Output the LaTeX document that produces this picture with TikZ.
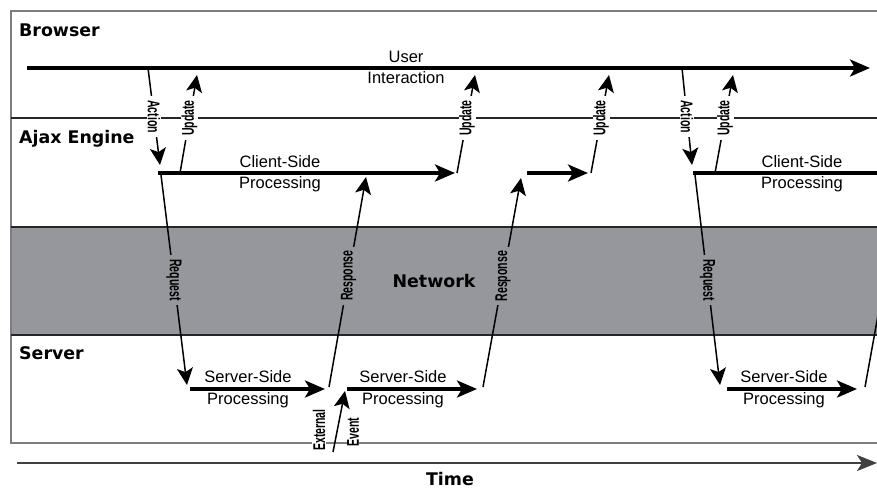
\documentclass[tikz,border=0pt]{standalone}
\usepackage{fontspec}
\setmainfont{Liberation Sans}
\newfontfamily\lanefont{DejaVu Sans}
\newfontfamily\narrowfont[FakeStretch=0.62]{Liberation Sans Bold}
\usepackage{xcolor}
\definecolor{netgray}{RGB}{150,151,156}
\definecolor{boxgray}{RGB}{125,125,125}
\usetikzlibrary{arrows.meta}

\begin{document}
\begin{tikzpicture}[
    x=1pt, y=-1pt,
    lane/.style={anchor=base west, inner sep=0pt,
                 font=\lanefont\fontsize{17.4}{20}\selectfont\bfseries},
    lbl/.style={anchor=base, inner sep=0pt, font=\fontsize{16.5}{18}\selectfont},
    flow/.style={line width=3.2pt, -{Stealth[length=20pt,width=17pt,inset=5pt]}},
    msg/.style={line width=1.5pt, -{Stealth[length=17pt,width=16pt,inset=4pt]}},
    vlbl/.style={fill=white, inner xsep=4pt, inner ysep=0.5pt,
                 font=\narrowfont\fontsize{17}{17}\selectfont},
    down/.style={vlbl, rotate=-90},
    up/.style={vlbl, rotate=90},
  ]
  \useasboundingbox (0,0) rectangle (877,488);
  \clip (0,0) rectangle (877,488);

  % Lanes
  \fill[netgray] (11,227) rectangle (885,335);
  \draw[boxgray, line width=2pt] (11,11) rectangle (885,443);
  \draw[line width=1.3pt, black!85] (11,118) -- (885,118);
  \draw[line width=1.3pt, black!85] (11,227) -- (885,227);
  \draw[line width=1.3pt, black!85] (11,335) -- (885,335);
  \node[lane] (browser) at (19,36)  {Browser};
  \node[lane] (ajax)    at (19,143) {Ajax Engine};
  \node[lane] (server)  at (19,359) {Server};
  \node[lane, anchor=base] (network) at (434,287) {Network};

  % Time axis
  \coordinate (t0) at (17,463);
  \coordinate (t1) at (877,463);
  \draw[line width=2.2pt, black!75, -{Stealth[length=20pt,width=16pt,inset=5pt]}] (t0) -- (t1);
  \node[lane, anchor=base] (time) at (450,485.5) {Time};

  % Points in time
  \coordinate (ui0) at (27,68);   \coordinate (ui1) at (870,68);
  \coordinate (act1a) at (148,68);  \coordinate (act1b) at (160,165);
  \coordinate (act2a) at (682,68);  \coordinate (act2b) at (692,165);
  \coordinate (upd1a) at (180,173); \coordinate (upd1b) at (197,75);
  \coordinate (upd2a) at (457,173); \coordinate (upd2b) at (475,75);
  \coordinate (upd3a) at (591,173); \coordinate (upd3b) at (609,75);
  \coordinate (upd4a) at (715,173); \coordinate (upd4b) at (733,75);
  \coordinate (cs1a) at (158,173);  \coordinate (cs1b) at (455,173);
  \coordinate (cs2a) at (527,173);  \coordinate (cs2b) at (588,173);
  \coordinate (cs3a) at (693,173);  \coordinate (cs3b) at (885,173);
  \coordinate (req1a) at (161,175); \coordinate (req1b) at (187,385);
  \coordinate (req2a) at (695,175); \coordinate (req2b) at (720,385);
  \coordinate (ss1a) at (190,389);  \coordinate (ss1b) at (325,389);
  \coordinate (ss2a) at (347,389);  \coordinate (ss2b) at (477,389);
  \coordinate (ss3a) at (727,389);  \coordinate (ss3b) at (857,389);
  \coordinate (rsp1a) at (329,387); \coordinate (rsp1b) at (366,177);
  \coordinate (rsp2a) at (483,387); \coordinate (rsp2b) at (521,178);
  \coordinate (rsp3a) at (865,387); \coordinate (rsp3b) at (903,177);
  \coordinate (ext0) at (333,452);  \coordinate (ext1) at (345,391);

  % Browser: user interaction
  \draw[flow] (ui0) -- (ui1);
  \node[lbl] (user) at (406,62) {User};
  \node[lbl] (inter) at (406,83) {Interaction};

  % Ajax engine: client-side processing
  \draw[flow] (cs1a) -- (cs1b);
  \draw[flow] (cs2a) -- (cs2b);
  \draw[line width=3.2pt] (cs3a) -- (cs3b);
  \foreach \x/\n in {280/1, 802/3} {
    \node[lbl] (cst\n) at (\x,167) {Client-Side};
    \node[lbl] (csp\n) at (\x,188) {Processing};
  }

  % Server: server-side processing
  \draw[flow] (ss1a) -- (ss1b);
  \draw[flow] (ss2a) -- (ss2b);
  \draw[flow] (ss3a) -- (ss3b);
  \foreach \x/\n in {248/1, 403/2, 784/3} {
    \node[lbl] (sst\n) at (\x,382) {Server-Side};
    \node[lbl] (ssp\n) at (\x,404) {Processing};
  }

  % Messages between lanes
  \foreach \p/\q in {act1a/act1b, act2a/act2b}
    \draw[msg] (\p) -- (\q) node[down, pos=.5] {Action};
  \foreach \p/\q in {upd1a/upd1b, upd2a/upd2b, upd3a/upd3b, upd4a/upd4b}
    \draw[msg] (\p) -- (\q) node[up, pos=.56] {Update};
  \foreach \p/\q in {req1a/req1b, req2a/req2b}
    \draw[msg] (\p) -- (\q) node[down, fill=netgray, pos=.5] {Request};
  \foreach \p/\q in {rsp1a/rsp1b, rsp2a/rsp2b}
    \draw[msg] (\p) -- (\q) node[up, fill=netgray, pos=.53] {Response};
  \draw[msg] (rsp3a) -- (rsp3b);

  % External event
  \node[up, inner xsep=2pt] (extl) at (319,430) {External};
  \node[up, inner xsep=2pt] (evtl) at (353,432) {Event};
  \draw[msg] (ext0) -- (ext1);
\end{tikzpicture}
\end{document}
